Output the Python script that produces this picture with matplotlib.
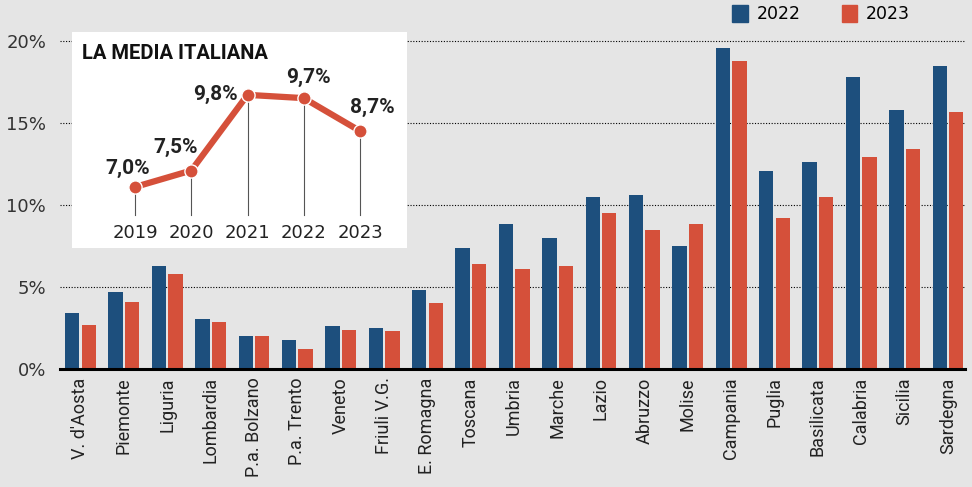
import matplotlib
matplotlib.use("Agg")
import matplotlib.pyplot as plt
import numpy as np
from matplotlib import font_manager as fm
from matplotlib.patches import Patch

def pick(fams):
    for f in fams:
        try:
            fm.findfont(f, fallback_to_default=False)
            return f
        except Exception:
            pass
    return "DejaVu Sans"

ROB = pick(["Roboto", "Liberation Sans", "DejaVu Sans"])

regions = ["V. d'Aosta", "Piemonte", "Liguria", "Lombardia", "P.a. Bolzano", "P.a. Trento",
           "Veneto", "Friuli V.G.", "E. Romagna", "Toscana", "Umbria", "Marche", "Lazio",
           "Abruzzo", "Molise", "Campania", "Puglia", "Basilicata", "Calabria", "Sicilia", "Sardegna"]
v2022 = [3.4, 4.7, 6.3, 3.05, 2.0, 1.75, 2.6, 2.5, 4.8, 7.4, 8.85, 8.0, 10.5, 10.6, 7.5,
         19.6, 12.1, 12.6, 17.8, 15.8, 18.5]
v2023 = [2.7, 4.1, 5.8, 2.85, 2.0, 1.2, 2.35, 2.3, 4.0, 6.4, 6.1, 6.3, 9.5, 8.5, 8.85,
         18.8, 9.2, 10.5, 12.9, 13.4, 15.7]
yticks = [0, 5, 10, 15, 20]
ytick_labels = ["0%", "5%", "10%", "15%", "20%"]

years = [2019, 2020, 2021, 2022, 2023]
media = [7.0, 7.5, 9.8, 9.7, 8.7]
media_labels = ["7,0%", "7,5%", "9,8%", "9,7%", "8,7%"]

BLUE = "#1d4f7d"
RED = "#d5503a"
BG = "#e5e5e5"

fig = plt.figure(figsize=(9.72, 4.87), dpi=100, facecolor=BG)
ax = fig.add_axes([0.0617, 0.2423, 0.931, 0.7072], facecolor=BG)

x = np.arange(len(regions))
w = 0.33
ax.bar(x - 0.19, v2022, width=w, color=BLUE, zorder=3)
ax.bar(x + 0.19, v2023, width=w, color=RED, zorder=3)
ax.set_xlim(-0.473, 20.39)
ax.set_ylim(0, 21)
ax.set_yticks(yticks)
ax.set_yticklabels(ytick_labels, fontsize=13, color="#333333", family="DejaVu Sans")
ax.tick_params(axis="y", length=0, pad=10)
ax.set_xticks(x)
ax.set_xticklabels(regions, rotation=90, fontsize=13, family=ROB, color="#222222")
ax.tick_params(axis="x", length=0, pad=6)
for s in ["top", "right", "left"]:
    ax.spines[s].set_visible(False)
ax.spines["bottom"].set_linewidth(2.2)
ax.spines["bottom"].set_color("black")
ax.spines["bottom"].set_zorder(4)
for t in yticks[1:]:
    ax.axhline(t, color="black", linestyle=(0, (1, 1.5)), linewidth=0.8, zorder=1)

handles = [Patch(color=BLUE, label="2022"), Patch(color=RED, label="2023")]
fig.legend(handles=handles, loc="center right", bbox_to_anchor=(0.945, 0.971), ncol=2,
           frameon=False, fontsize=12.5, handlelength=0.9, handleheight=1.1,
           handletextpad=0.5, columnspacing=2.35, borderpad=0)

# inset
ia = fig.add_axes([0.0741, 0.4908, 0.3447, 0.4435], facecolor="white", zorder=5)
ia.set_xlim(2017.88, 2023.836)
ia.set_ylim(5.146, 11.71)
ia.axis("off")
ia.add_patch(plt.Rectangle((0, 0), 1, 1, transform=ia.transAxes, color="white", zorder=0))
for yr, v in zip(years, media):
    ia.plot([yr, yr], [6.15, v], color="#555555", linewidth=0.8, zorder=1)
    ia.text(yr, 5.6, str(yr), ha="center", va="center", fontsize=13,
            family="DejaVu Sans", color="#222222")
ia.plot(years, media, color=RED, linewidth=4.5, zorder=2, solid_capstyle="round")
ia.plot(years, media, linestyle="none", marker="o", markersize=9.5, color=RED,
        markeredgecolor="white", markeredgewidth=1, zorder=3)
offsets = [(-7, 19, "center"), (-16, 23, "center"), (-10, 0, "right"), (5, 21, "center"), (12, 24, "center")]
for yr, v, lab, (dx, dy, ha) in zip(years, media, media_labels, offsets):
    ia.annotate(lab, (yr, v), xytext=(dx * 0.72, dy * 0.72), textcoords="offset points",
                ha=ha, va="center", fontsize=15, fontweight="bold", family=ROB, color="#222222")
ia.text(0.03, 0.9, "LA MEDIA ITALIANA", transform=ia.transAxes, ha="left", va="center",
        fontsize=14.5, fontweight="bold", family=ROB, color="#111111")

fig.savefig("out.png", dpi=100, facecolor=BG)
